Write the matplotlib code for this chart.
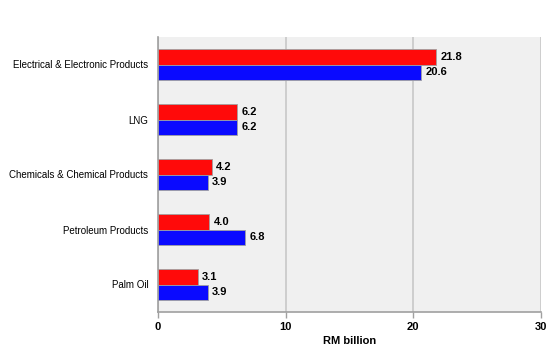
import matplotlib.pyplot as plt
import numpy as np

plt.rcParams['font.family'] = ['Liberation Sans', 'DejaVu Sans']

categories = ['Electrical & Electronic Products', 'LNG', 'Chemicals & Chemical Products',
              'Petroleum Products', 'Palm Oil']
red_values = [21.8, 6.2, 4.2, 4.0, 3.1]
blue_values = [20.6, 6.2, 3.9, 6.8, 3.9]
xticks = [0, 10, 20, 30]

fig = plt.figure(figsize=(5.5, 3.5), dpi=100)
ax = fig.add_axes([158 / 550, 1 - 312 / 350, (541 - 158) / 550, (312 - 37) / 350])
ax.set_facecolor('#f0f0f0')

y = np.arange(len(categories))[::-1]
h = 0.29
bars_r = ax.barh(y + h / 2, red_values, height=h, color='#ff0a0a', edgecolor='#a0a0a0', linewidth=0.6, zorder=3)
bars_b = ax.barh(y - h / 2, blue_values, height=h, color='#0a0aff', edgecolor='#a0a0a0', linewidth=0.6, zorder=3)

for bars, vals in ((bars_r, red_values), (bars_b, blue_values)):
    for b, v in zip(bars, vals):
        ax.text(v + 0.35, b.get_y() + b.get_height() / 2, f'{v:.1f}', va='center', ha='left',
                fontsize=8, fontweight='bold', zorder=4)

ax.set_xlim(0, 30)
ax.set_ylim(-0.5, len(categories) - 0.5)
ax.set_xticks(xticks)
ax.set_xticklabels([str(t) for t in xticks], fontsize=8, fontweight='bold')
ax.set_yticks(y)
ax.set_yticklabels(categories, fontsize=7)
ax.tick_params(axis='y', length=0, pad=7)
ax.tick_params(axis='x', length=4, color='#a0a0a0', width=1, pad=3)
ax.grid(axis='x', color='#c8c8c8', linewidth=1.2, zorder=0)
for s in ['top', 'right']:
    ax.spines[s].set_visible(False)
for s in ['left', 'bottom']:
    ax.spines[s].set_color('#a0a0a0')
    ax.spines[s].set_linewidth(1.2)
ax.set_xlabel('RM billion', fontsize=8, fontweight='bold', labelpad=3)

fig.savefig('out.png', dpi=100)
